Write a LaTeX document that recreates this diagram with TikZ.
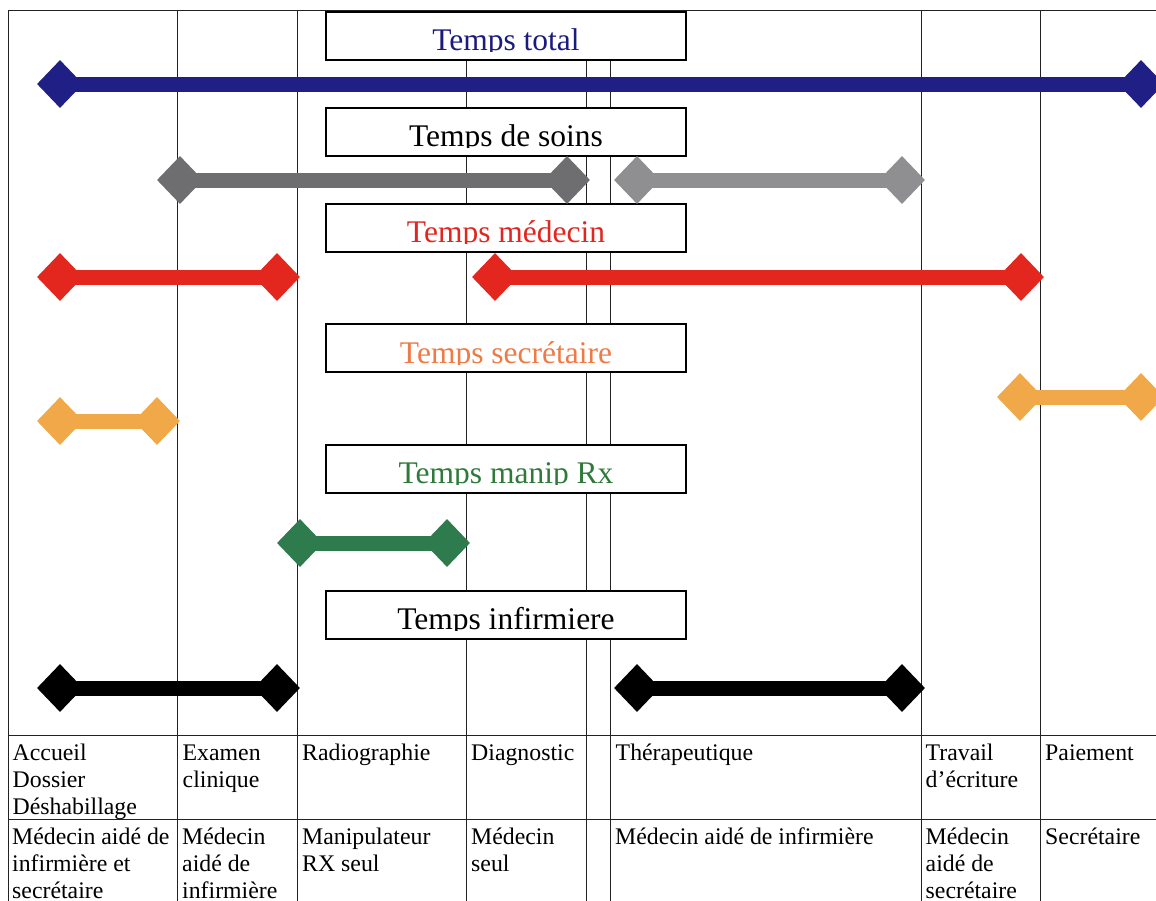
\documentclass[tikz,border=0pt]{standalone}
\usepackage{fontspec}
\setmainfont{Liberation Serif}
\usetikzlibrary{shapes.geometric}
\definecolor{navybar}{HTML}{1F1F85}
\definecolor{navytxt}{HTML}{1B1B7E}
\definecolor{greydark}{HTML}{6E6D70}
\definecolor{greylight}{HTML}{8F8E90}
\definecolor{redbar}{HTML}{E3261E}
\definecolor{redtxt}{HTML}{E0261E}
\definecolor{orangebar}{HTML}{F0A848}
\definecolor{orangetxt}{HTML}{EE7A45}
\definecolor{greenbar}{HTML}{2E7B4E}
\definecolor{greentxt}{HTML}{2F7A3A}
\definecolor{gridcol}{HTML}{222222}
\begin{document}
\begin{tikzpicture}[x=1pt,y=-1pt,
  gridline/.style={line width=1pt, draw=gridcol},
  tbox/.style={draw=black, line width=1.6pt, fill=white, minimum width=360pt, minimum height=48pt, inner sep=0pt},
  tlabel/.style={anchor=base, font=\fontsize{31.5}{36}\selectfont, inner sep=0pt},
  dia/.style={diamond, minimum width=46pt, minimum height=48pt, inner sep=0pt, draw=none, fill=#1},
  bar/.style={line width=15pt, draw=#1},
  cell/.style={anchor=north west, align=left, inner sep=0pt, font=\fontsize{23.8}{27}\selectfont}]
\useasboundingbox (0,0) rectangle (1156,900);
\clip (0,0) rectangle (1156,900);
\fill[white] (0,0) rectangle (1156,900);
% grid
\foreach \x in {8,177,297,466,586,610,921,1040}
  \draw[gridline] (\x,10) -- (\x,905);
\foreach \y in {10,735,819}
  \draw[gridline] (8,\y) -- (1165,\y);
% boxes with clipped titles
\node[tbox] (b1) at (506,36) {};
\node[tbox] (b2) at (506,132) {};
\node[tbox] (b3) at (506,228) {};
\node[tbox] (b4) at (506,348) {};
\node[tbox] (b5) at (506,469) {};
\node[tbox] (b6) at (506,615) {};
\begin{scope}\clip (327,13) rectangle (685,51);
\node[tlabel, text=navytxt] (t1) at (506,50) {Temps total};\end{scope}
\begin{scope}\clip (327,109) rectangle (685,147);
\node[tlabel, text=black] (t2) at (506,146) {Temps de soins};\end{scope}
\begin{scope}\clip (327,205) rectangle (685,243);
\node[tlabel, text=redtxt] (t3) at (506,242) {Temps médecin};\end{scope}
\begin{scope}\clip (327,325) rectangle (685,364);
\node[tlabel, text=orangetxt] (t4) at (506,363) {Temps secrétaire};\end{scope}
\begin{scope}\clip (327,446) rectangle (685,484);
\node[tlabel, text=greentxt] (t5) at (506,483) {Temps manip Rx};\end{scope}
\begin{scope}\clip (327,592) rectangle (685,630);
\node[tlabel, text=black] (t6) at (506,629) {Temps infirmiere};\end{scope}
% diamonds
\node[dia=navybar] (n1a) at (60,84) {};
\node[dia=navybar] (n1b) at (1141,84) {};
\node[dia=greydark] (g1a) at (180,180) {};
\node[dia=greydark] (g1b) at (567,180) {};
\node[dia=greylight] (g2a) at (637,180) {};
\node[dia=greylight] (g2b) at (902,180) {};
\node[dia=redbar] (r1a) at (60,277) {};
\node[dia=redbar] (r1b) at (277,277) {};
\node[dia=redbar] (r2a) at (495,277) {};
\node[dia=redbar] (r2b) at (1021,277) {};
\node[dia=orangebar] (o1a) at (60,421) {};
\node[dia=orangebar] (o1b) at (157,421) {};
\node[dia=orangebar] (o2a) at (1020,397) {};
\node[dia=orangebar] (o2b) at (1141,397) {};
\node[dia=greenbar] (v1a) at (300,543) {};
\node[dia=greenbar] (v1b) at (447,543) {};
\node[dia=black] (k1a) at (60,688) {};
\node[dia=black] (k1b) at (277,688) {};
\node[dia=black] (k2a) at (637,688) {};
\node[dia=black] (k2b) at (902,688) {};
% bars
\draw[bar=navybar] (n1a.center) -- (n1b.center);
\draw[bar=greydark] (g1a.center) -- (g1b.center);
\draw[bar=greylight] (g2a.center) -- (g2b.center);
\draw[bar=redbar] (r1a.center) -- (r1b.center);
\draw[bar=redbar] (r2a.center) -- (r2b.center);
\draw[bar=orangebar] (o1a.center) -- (o1b.center);
\draw[bar=orangebar] (o2a.center) -- (o2b.center);
\draw[bar=greenbar] (v1a.center) -- (v1b.center);
\draw[bar=black] (k1a.center) -- (k1b.center);
\draw[bar=black] (k2a.center) -- (k2b.center);
% table row 1 (first baseline 760)
\node[cell] (c11) at (12.5,742) {\rule{0pt}{18pt}Accueil\\Dossier\\Déshabillage};
\node[cell] (c12) at (182.5,742) {\rule{0pt}{18pt}Examen\\clinique};
\node[cell] (c13) at (302,742) {\rule{0pt}{18pt}Radiographie};
\node[cell] (c14) at (471,742) {\rule{0pt}{18pt}Diagnostic};
\node[cell] (c15) at (615.5,742) {\rule{0pt}{18pt}Thérapeutique};
\node[cell] (c16) at (925.5,742) {\rule{0pt}{18pt}Travail\\d’écriture};
\node[cell] (c17) at (1045,742) {\rule{0pt}{18pt}Paiement};
% table row 2 (first baseline 844)
\node[cell] (c21) at (12,826) {\rule{0pt}{18pt}Médecin aidé de\\infirmière et\\secrétaire};
\node[cell] (c22) at (182,826) {\rule{0pt}{18pt}Médecin\\aidé de\\infirmière};
\node[cell] (c23) at (302,826) {\rule{0pt}{18pt}Manipulateur\\RX seul};
\node[cell] (c24) at (471,826) {\rule{0pt}{18pt}Médecin\\seul};
\node[cell] (c25) at (615,826) {\rule{0pt}{18pt}Médecin aidé de infirmière};
\node[cell] (c26) at (925.5,826) {\rule{0pt}{18pt}Médecin\\aidé de\\secrétaire};
\node[cell] (c27) at (1045,826) {\rule{0pt}{18pt}Secrétaire};
\end{tikzpicture}
\end{document}
